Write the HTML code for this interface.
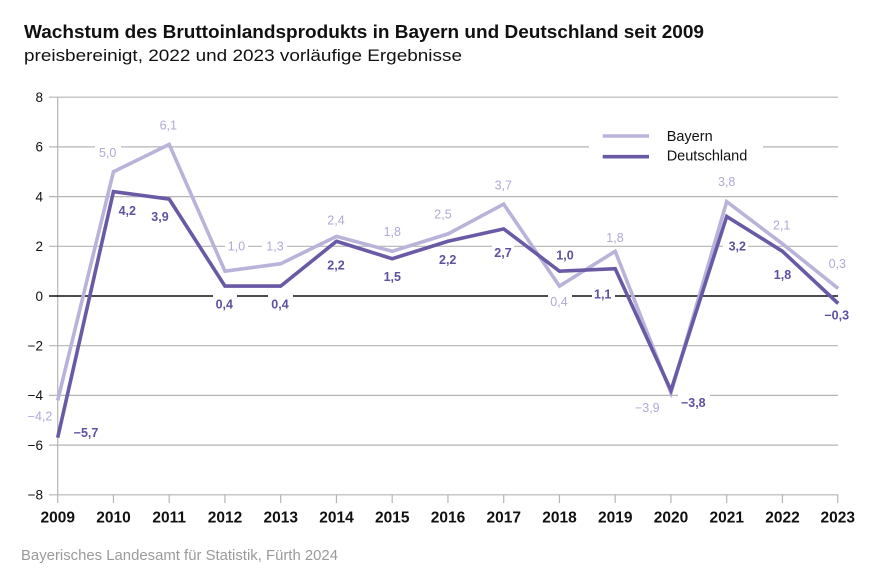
<!DOCTYPE html>
<html><head><meta charset="utf-8"><style>
html,body{margin:0;padding:0;background:#fff;}
svg{display:block;}
text{font-family:"Liberation Sans",Arial,sans-serif;}
</style></head><body>
<svg width="880" height="579" viewBox="0 0 880 579" xmlns="http://www.w3.org/2000/svg">
<rect width="880" height="579" fill="#fff"/>
<text x="24" y="38" font-size="18" font-weight="bold" fill="#111" textLength="680" lengthAdjust="spacingAndGlyphs">Wachstum des Bruttoinlandsprodukts in Bayern und Deutschland seit 2009</text>
<text x="24" y="61" font-size="17" fill="#111" textLength="438" lengthAdjust="spacingAndGlyphs">preisbereinigt, 2022 und 2023 vorläufige Ergebnisse</text>

<!-- gridlines -->
<g stroke="#b5b5b5" stroke-width="1.2">
<line x1="49" y1="97.2" x2="838" y2="97.2"/>
<line x1="49" y1="146.9" x2="838" y2="146.9"/>
<line x1="49" y1="196.6" x2="838" y2="196.6"/>
<line x1="49" y1="246.3" x2="838" y2="246.3"/>
<line x1="49" y1="345.7" x2="838" y2="345.7"/>
<line x1="49" y1="395.4" x2="838" y2="395.4"/>
<line x1="49" y1="445.1" x2="838" y2="445.1"/>
<line x1="49" y1="494.8" x2="838" y2="494.8"/>
<line x1="57.7" y1="97.2" x2="57.7" y2="503"/>
<line x1="113.45" y1="494.8" x2="113.45" y2="503"/>
<line x1="169.2" y1="494.8" x2="169.2" y2="503"/>
<line x1="224.95" y1="494.8" x2="224.95" y2="503"/>
<line x1="280.7" y1="494.8" x2="280.7" y2="503"/>
<line x1="336.45" y1="494.8" x2="336.45" y2="503"/>
<line x1="392.2" y1="494.8" x2="392.2" y2="503"/>
<line x1="447.95" y1="494.8" x2="447.95" y2="503"/>
<line x1="503.7" y1="494.8" x2="503.7" y2="503"/>
<line x1="559.45" y1="494.8" x2="559.45" y2="503"/>
<line x1="615.2" y1="494.8" x2="615.2" y2="503"/>
<line x1="670.95" y1="494.8" x2="670.95" y2="503"/>
<line x1="726.7" y1="494.8" x2="726.7" y2="503"/>
<line x1="782.45" y1="494.8" x2="782.45" y2="503"/>
<line x1="837.7" y1="494.8" x2="837.7" y2="503"/>
</g>
<line x1="49" y1="296" x2="838" y2="296" stroke="#111" stroke-width="1.6"/>

<!-- gaps behind labels -->
<g fill="#fff">
<rect x="95" y="142" width="26" height="10"/>
<rect x="589" y="125" width="174" height="42"/>
<rect x="225" y="241" width="23" height="10"/>
<rect x="262" y="241" width="25" height="10"/>
<rect x="492" y="241" width="22" height="10"/>
<rect x="723" y="241" width="25" height="10"/>
<rect x="213" y="292" width="24" height="8"/>
<rect x="268" y="292" width="25" height="8"/>
<rect x="548" y="292" width="24" height="8"/>
<rect x="592" y="292" width="23" height="8"/>
<rect x="678" y="391" width="32" height="9"/>
</g>

<!-- y labels -->
<g font-size="13.5" fill="#111" text-anchor="end">
<text x="43" y="102">8</text>
<text x="43" y="151.7">6</text>
<text x="43" y="201.4">4</text>
<text x="43" y="251.1">2</text>
<text x="43" y="300.8">0</text>
<text x="43" y="350.5">−2</text>
<text x="43" y="400.2">−4</text>
<text x="43" y="449.9">−6</text>
<text x="43" y="499.6">−8</text>
</g>
<!-- x labels -->
<g font-size="15.5" font-weight="bold" fill="#111" text-anchor="middle">
<text x="57.7" y="522.7">2009</text>
<text x="113.45" y="522.7">2010</text>
<text x="169.2" y="522.7">2011</text>
<text x="224.95" y="522.7">2012</text>
<text x="280.7" y="522.7">2013</text>
<text x="336.45" y="522.7">2014</text>
<text x="392.2" y="522.7">2015</text>
<text x="447.95" y="522.7">2016</text>
<text x="503.7" y="522.7">2017</text>
<text x="559.45" y="522.7">2018</text>
<text x="615.2" y="522.7">2019</text>
<text x="670.95" y="522.7">2020</text>
<text x="726.7" y="522.7">2021</text>
<text x="782.45" y="522.7">2022</text>
<text x="837.7" y="522.7">2023</text>
</g>

<!-- series -->
<polyline fill="none" stroke="#b9b3da" stroke-width="3.6" stroke-linejoin="miter" stroke-linecap="butt"
points="57.7,400.4 113.45,171.75 169.2,144.4 224.95,271.15 280.7,263.7 336.45,236.4 392.2,251.3 447.95,233.9 503.7,204.1 559.45,286.1 615.2,251.3 670.95,392.9 726.7,201.6 782.45,243.8 838.2,288.5"/>
<polyline fill="none" stroke="#6a5aa6" stroke-width="3.6" stroke-linejoin="miter" stroke-linecap="butt"
points="57.7,437.6 113.45,191.6 169.2,199.1 224.95,286.1 280.7,286.1 336.45,241.3 392.2,258.7 447.95,241.3 503.7,228.9 559.45,271.15 615.2,268.7 670.95,390.4 726.7,216.5 782.45,251.3 838.2,303.5"/>

<!-- legend -->
<line x1="602.7" y1="136" x2="649" y2="136" stroke="#b9b3da" stroke-width="3.6"/>
<line x1="602.7" y1="156.7" x2="649" y2="156.7" stroke="#6a5aa6" stroke-width="3.6"/>
<text x="666.7" y="141" font-size="14.5" fill="#111">Bayern</text>
<text x="666.7" y="160.7" font-size="14.5" fill="#111">Deutschland</text>

<!-- Bayern labels -->
<g font-size="12.5" fill="#b0a9d6" text-anchor="middle">
<text x="40" y="420.5">−4,2</text>
<text x="107.7" y="157.2">5,0</text>
<text x="168.3" y="129.5">6,1</text>
<text x="236.5" y="250.5">1,0</text>
<text x="275" y="250.5">1,3</text>
<text x="336" y="224.5">2,4</text>
<text x="392.3" y="236.2">1,8</text>
<text x="443" y="218.5">2,5</text>
<text x="503.3" y="189.5">3,7</text>
<text x="559" y="306.2">0,4</text>
<text x="615" y="242.2">1,8</text>
<text x="647.3" y="411.8">−3,9</text>
<text x="726.7" y="186.2">3,8</text>
<text x="781.7" y="229.5">2,1</text>
<text x="837.3" y="267.8">0,3</text>
</g>
<!-- Deutschland labels -->
<g font-size="12.5" font-weight="bold" fill="#5f50a0" text-anchor="middle">
<text x="86" y="437.2">−5,7</text>
<text x="127.3" y="215.2">4,2</text>
<text x="160" y="221.2">3,9</text>
<text x="224.3" y="308.5">0,4</text>
<text x="280" y="308.5">0,4</text>
<text x="336" y="269.5">2,2</text>
<text x="392.3" y="281.2">1,5</text>
<text x="447.7" y="263.8">2,2</text>
<text x="503" y="257.2">2,7</text>
<text x="565" y="259.5">1,0</text>
<text x="602.7" y="298.5">1,1</text>
<text x="693.3" y="407.2">−3,8</text>
<text x="737.3" y="250.5">3,2</text>
<text x="782.5" y="279">1,8</text>
<text x="836.7" y="319.5">−0,3</text>
</g>

<text x="21" y="560" font-size="14.5" fill="#9a9a9a" textLength="317" lengthAdjust="spacingAndGlyphs">Bayerisches Landesamt für Statistik, Fürth 2024</text>
</svg>
</body></html>
